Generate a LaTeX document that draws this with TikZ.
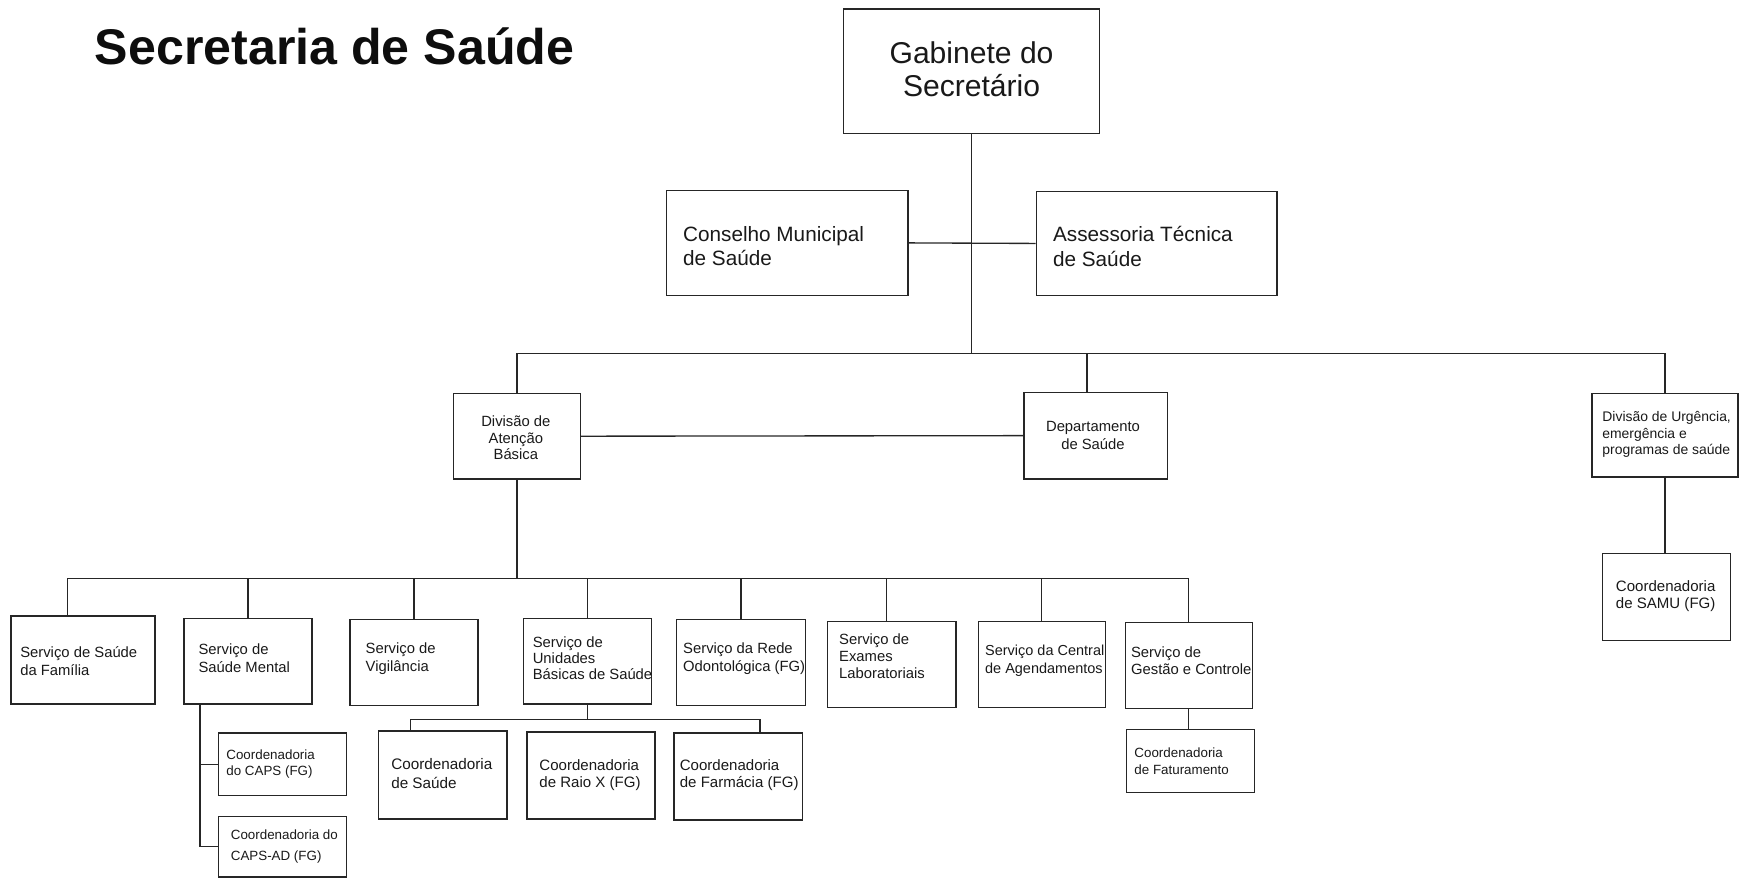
\documentclass[tikz,border=0pt]{standalone}
\usepackage{fontspec}
\setmainfont{Liberation Sans}
\usetikzlibrary{fit,calc}
\begin{document}
\begin{tikzpicture}[x=1pt,y=-1pt,
  box/.style={draw=black!85, line width=1.2pt, inner sep=0pt},
  conn/.style={draw=black!85, line width=1.2pt},
  txt/.style={anchor=west, align=left, inner sep=0pt, text=black!90},
  ctxt/.style={anchor=center, align=center, inner sep=0pt, text=black!90},
  fbig/.style={font=\fontsize{27}{30}\selectfont},
  fmid/.style={font=\fontsize{18.6}{22}\selectfont},
  fsm/.style={font=\fontsize{13.3}{16}\selectfont},
  fxs/.style={font=\fontsize{12}{14}\selectfont},
]
\useasboundingbox (0,0) rectangle (1568,790);

% title
\node[anchor=base west, inner sep=0pt, font=\bfseries\fontsize{45}{50}\selectfont, text=black!95] (title) at (85,58) {Secretaria de Saúde};

% top level
\node[box, fit={(757,8) (987,120)}] (gab) {};
\node[ctxt, fbig] (gabt) at (872,62) {Gabinete do\\Secretário};

\node[box, fit={(598,171) (815,265)}] (cons) {};
\node[txt, fmid] (const) at (613,221) {Conselho Municipal\\de Saúde};
\node[box, fit={(930,172) (1146,265)}] (ass) {};
\node[txt, fmid] (asst) at (945,221) {Assessoria Técnica\\de Saúde};

% second level
\node[box, fit={(407,353) (521,430)}] (div) {};
\node[ctxt, fsm, font=\fontsize{13.3}{15}\selectfont] (divt) at (463,393) {Divisão de\\Atenção\\Básica};
\node[box, fit={(919,352) (1048,430)}] (dep) {};
\node[ctxt, fsm] (dept) at (981,391) {Departamento\\de Saúde};
\node[box, fit={(1429,353) (1560,428)}] (urg) {};
\node[txt, font=\fontsize{12.5}{15}\selectfont] (urgt) at (1438,390) {Divisão de Urgência,\\emergência e\\programas de saúde};
\node[box, fit={(1438,497) (1553,575)}] (samu) {};
\node[ctxt, font=\fontsize{13.5}{15}\selectfont] (samut) at (1495,535) {Coordenadoria\\de SAMU (FG)};

% services
\node[box, fit={(10,553) (139,632)}] (fam) {};
\node[txt, fsm] (famt) at (18,593) {Serviço de Saúde\\da Família};
\node[box, fit={(165,555) (280,632)}] (ment) {};
\node[txt, fsm] (mentt) at (178,591) {Serviço de\\Saúde Mental};
\node[box, fit={(314,556) (429,633)}] (vig) {};
\node[txt, fsm] (vigt) at (328,591) {Serviço de\\Vigilância};
\node[box, fit={(470,555) (585,632)}] (unid) {};
\node[txt, font=\fontsize{13.3}{14.5}\selectfont] (unidt) at (478,591) {Serviço de\\Unidades\\Básicas de Saúde};
\node[box, fit={(607,556) (723,633)}] (odo) {};
\node[txt, fsm] (odot) at (613,591) {Serviço da Rede\\Odontológica (FG)};
\node[box, fit={(743,558) (858,635)}] (exa) {};
\node[txt, font=\fontsize{13.3}{15}\selectfont] (exat) at (753,589) {Serviço de\\Exames\\Laboratoriais};
\node[box, fit={(878,558) (992,635)}] (cen) {};
\node[txt, font=\fontsize{13}{16}\selectfont] (cent) at (884,593) {Serviço da Central\\de Agendamentos};
\node[box, fit={(1010,559) (1124,636)}] (ges) {};
\node[txt, fsm] (gest) at (1015,593) {Serviço de\\Gestão e Controle};

% coordinations
\node[box, fit={(196,658) (311,714)}] (caps) {};
\node[txt, fxs] (capst) at (203,686) {Coordenadoria\\do CAPS (FG)};
\node[box, fit={(196,733) (311,787)}] (capsad) {};
\node[txt, font=\fontsize{12}{19}\selectfont] (capsadt) at (207,760) {Coordenadoria do\\CAPS-AD (FG)};
\node[box, fit={(340,656) (455,735)}] (cs) {};
\node[txt, font=\fontsize{13.7}{17}\selectfont] (cst) at (351,694) {Coordenadoria\\de Saúde};
\node[box, fit={(473,657) (588,735)}] (rx) {};
\node[txt, font=\fontsize{13.5}{15.5}\selectfont] (rxt) at (484,696) {Coordenadoria\\de Raio X (FG)};
\node[box, fit={(605,658) (720,736)}] (far) {};
\node[txt, font=\fontsize{13.5}{15.5}\selectfont] (fart) at (610,696) {Coordenadoria\\de Farmácia (FG)};
\node[box, fit={(1011,655) (1126,711)}] (fat) {};
\node[txt, font=\fontsize{12}{15}\selectfont] (fatt) at (1018,683) {Coordenadoria\\de Faturamento};

% bus lines
\coordinate (b1) at (872,317);
\coordinate (b2) at (468,519);
\coordinate (b3) at (528,646);

% connectors
\draw[conn] (gab.south) -- (b1);
\draw[conn] (cons.east) -- (ass.west);
\draw[conn] (div.north) -- (div.north |- b1) -- (urg.north |- b1) -- (urg.north);
\draw[conn] ($(dep.north)+(-8,0)$) -- ($(dep.north |- b1)+(-8,0)$);
\draw[conn] (div.east) -- (dep.west);
\draw[conn] (urg.south) -- (urg.south |- samu.north);

\draw[conn] (div.south) -- (div.south |- b2);
\coordinate (famtop) at ($(fam.north west)!0.395!(fam.north east)$);
\draw[conn] (famtop) -- (famtop |- b2) -- (ges.north |- b2) -- (ges.north);
\draw[conn] (ment.north) -- (ment.north |- b2);
\draw[conn] (vig.north) -- (vig.north |- b2);
\draw[conn] (unid.north) -- (unid.north |- b2);
\draw[conn] (odo.north) -- (odo.north |- b2);
\coordinate (exatop) at ($(exa.north west)!0.46!(exa.north east)$);
\draw[conn] (exatop) -- (exatop |- b2);
\draw[conn] (cen.north) -- (cen.north |- b2);

\coordinate (mentbot) at ($(ment.south west)!0.13!(ment.south east)$);
\draw[conn] (mentbot) -- (mentbot |- capsad.west) -- (capsad.west);
\draw[conn] (mentbot |- caps.west) -- (caps.west);

\coordinate (cstop) at ($(cs.north west)!0.25!(cs.north east)$);
\coordinate (fartop) at ($(far.north west)!0.67!(far.north east)$);
\draw[conn] (unid.south) -- (unid.south |- b3);
\draw[conn] (cstop) -- (cstop |- b3) -- (fartop |- b3) -- (fartop);

\draw[conn] (ges.south) -- (ges.south |- fat.north);
\end{tikzpicture}
\end{document}
